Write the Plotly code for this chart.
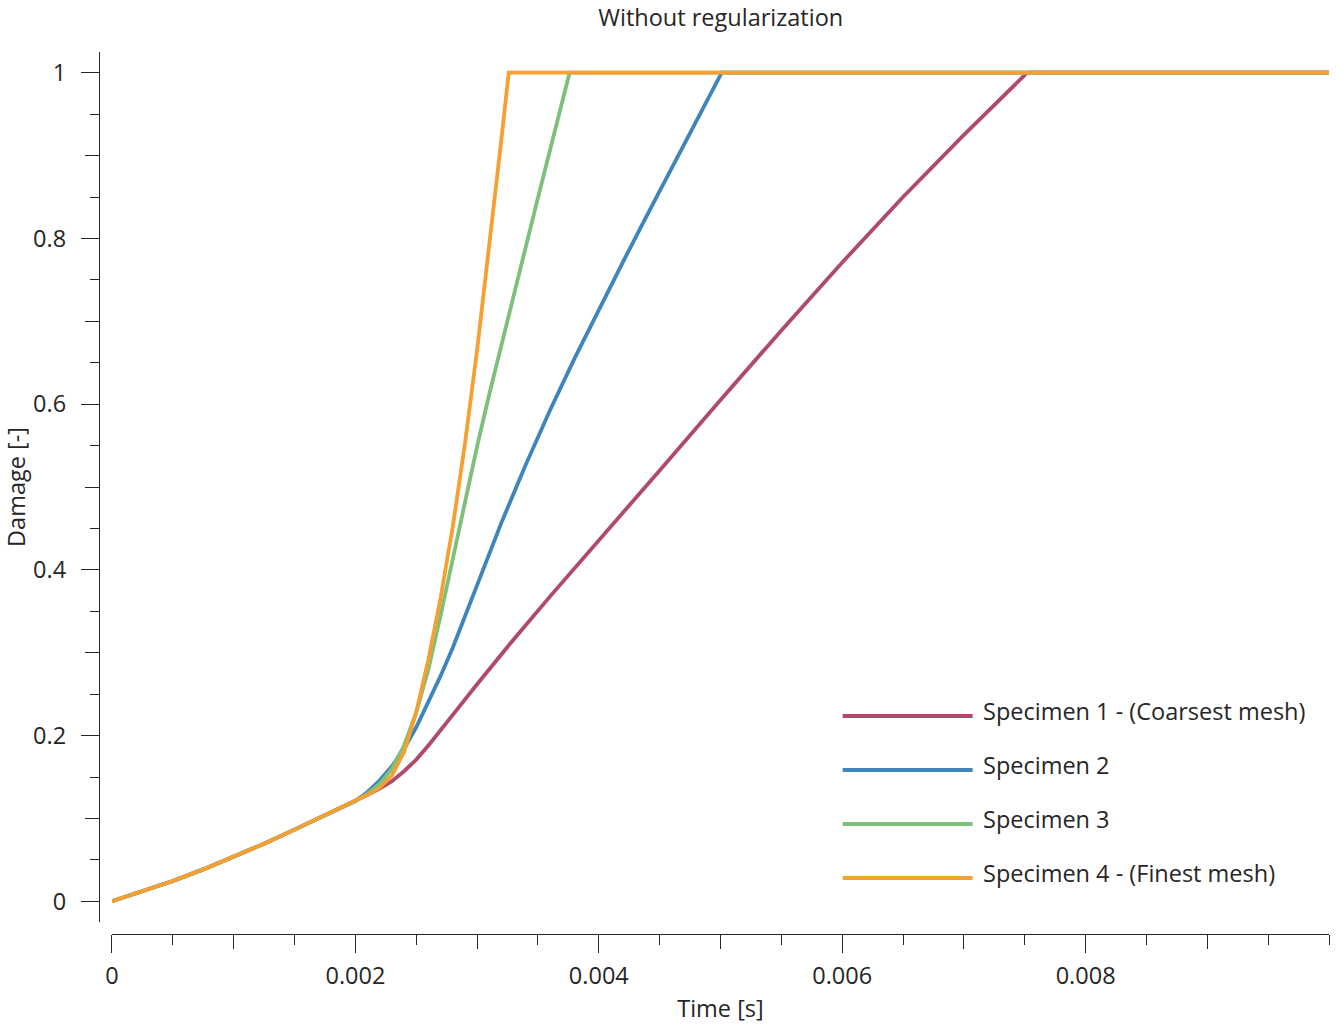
import plotly.graph_objects as go

# ---------------- data ----------------
t_common = [0.0, 0.00025, 0.0005, 0.00075, 0.001, 0.00125, 0.0015, 0.00175, 0.002]
d_common = [0.0, 0.0118, 0.0245, 0.0385, 0.0535, 0.0695, 0.0865, 0.1035, 0.121]

t_spec1 = [0.0021, 0.0022, 0.0023, 0.0024, 0.0025, 0.0026, 0.0027, 0.0028, 0.0030, 0.0033,
           0.0036, 0.0040, 0.0045, 0.0050, 0.0055, 0.0060, 0.0065, 0.0070, 0.0075, 0.00752, 0.01]
d_spec1 = [0.1285, 0.136, 0.145, 0.157, 0.171, 0.188, 0.206, 0.225, 0.262, 0.316,
           0.368, 0.435, 0.520, 0.605, 0.689, 0.771, 0.850, 0.925, 0.998, 1.0, 1.0]

t_spec2 = [0.0021, 0.0022, 0.0023, 0.0024, 0.0025, 0.0026, 0.0027, 0.0028, 0.0030, 0.0032,
           0.0034, 0.0036, 0.0038, 0.0040, 0.0042, 0.0044, 0.0046, 0.0048, 0.0050, 0.00501, 0.01]
d_spec2 = [0.132, 0.146, 0.163, 0.184, 0.210, 0.240, 0.272, 0.306, 0.383, 0.457,
           0.527, 0.593, 0.655, 0.714, 0.772, 0.829, 0.885, 0.941, 0.997, 1.0, 1.0]

t_spec3 = [0.0021, 0.0022, 0.0023, 0.0024, 0.0025, 0.0026, 0.0027, 0.0028, 0.0029, 0.0030,
           0.0031, 0.0032, 0.0033, 0.0034, 0.0035, 0.0036, 0.0037, 0.00376, 0.01]
d_spec3 = [0.130, 0.142, 0.160, 0.188, 0.228, 0.280, 0.345, 0.413, 0.482, 0.549,
           0.612, 0.672, 0.731, 0.790, 0.849, 0.907, 0.964, 1.0, 1.0]

t_spec4 = [0.0021, 0.0022, 0.0023, 0.0024, 0.0025, 0.0026, 0.0027, 0.0028, 0.0029,
           0.0030, 0.0031, 0.0032, 0.00326, 0.01]
d_spec4 = [0.1285, 0.137, 0.152, 0.180, 0.228, 0.292, 0.366, 0.452, 0.552,
           0.665, 0.788, 0.920, 1.0, 1.0]

series_names = ["Specimen 1 - (Coarsest mesh)", "Specimen 2", "Specimen 3",
                "Specimen 4 - (Finest mesh)"]
series_colors = ["#b04a6a", "#3d85bc", "#7dc07a", "#f5a030"]

x_major = [0, 0.002, 0.004, 0.006, 0.008]
x_major_text = ["0", "0.002", "0.004", "0.006", "0.008"]
x_mid = [0.001, 0.003, 0.005, 0.007, 0.009]
y_major = [0, 0.2, 0.4, 0.6, 0.8, 1]
y_major_text = ["0", "0.2", "0.4", "0.6", "0.8", "1"]
y_mid = [0.1, 0.3, 0.5, 0.7, 0.9]

# ---------------- figure ----------------
W, H = 1339, 1024
ML, MR, MT, MB = 99, 9.5, 52, 90
PW, PH = W - ML - MR, H - MT - MB
FONT = "Open Sans"
FS = 23.5
TXT = "#262626"
LW = 3.8


def px2paper(px, py):
    return (px - ML) / PW, (H - MB - py) / PH


fig = go.Figure()
all_t = [t_spec1, t_spec2, t_spec3, t_spec4]
all_d = [d_spec1, d_spec2, d_spec3, d_spec4]
for name, col, ts, ds in zip(series_names, series_colors, all_t, all_d):
    fig.add_trace(go.Scatter(x=t_common + ts, y=d_common + ds, mode="lines", name=name,
                             line=dict(color=col, width=LW),
                             showlegend=False))

# dummy trace to activate overlay axes (medium ticks)
fig.add_trace(go.Scatter(x=[], y=[], xaxis="x2", yaxis="y2", showlegend=False, hoverinfo="skip"))

x_dom0 = (112 - ML) / PW
y_dom0 = (934 - 922) / PH
xrange = [0, 0.01]
yrange = [-0.025, 1.025]

common_axis = dict(showgrid=False, zeroline=False, ticks="outside", tickcolor=TXT,
                   tickwidth=1.3, linecolor=TXT, linewidth=1.3, automargin=False)

fig.update_layout(
    width=W, height=H,
    margin=dict(l=ML, r=MR, t=MT, b=MB, pad=0, autoexpand=False),
    plot_bgcolor="white", paper_bgcolor="white",
    font=dict(family=FONT, size=FS, color=TXT),
    title=dict(text="Without regularization", x=(720.75) / W, xanchor="center",
               y=1 - 18 / H, yanchor="middle", font=dict(size=FS, color=TXT)),
    xaxis=dict(range=xrange, domain=[x_dom0, 1], anchor="free", position=0,
               tickvals=x_major, ticktext=x_major_text, ticklen=18,
               minor=dict(dtick=0.0005, tick0=0, ticklen=10, ticks="outside",
                          tickcolor=TXT, tickwidth=1.3, showgrid=False),
               title=dict(text="Time [s]", standoff=13, font=dict(size=FS)),
               showline=True, ticklabelstandoff=3, **common_axis),
    yaxis=dict(range=yrange, domain=[y_dom0, 1], anchor="free", position=0,
               tickvals=y_major, ticktext=y_major_text, ticklen=18,
               minor=dict(dtick=0.05, tick0=0, ticklen=9, ticks="outside",
                          tickcolor=TXT, tickwidth=1.3, showgrid=False),
               title=dict(text="Damage [-]", standoff=6, font=dict(size=FS)),
               showline=True, ticklabelstandoff=10, **common_axis),
    xaxis2=dict(range=xrange, domain=[x_dom0, 1], anchor="free", position=0,
                overlaying="x", tickvals=x_mid, ticklen=14, showticklabels=False,
                showline=False, showgrid=False, zeroline=False, ticks="outside",
                tickcolor=TXT, tickwidth=1.3, automargin=False),
    yaxis2=dict(range=yrange, domain=[y_dom0, 1], anchor="free", position=0,
                overlaying="y", tickvals=y_mid, ticklen=14, showticklabels=False,
                showline=False, showgrid=False, zeroline=False, ticks="outside",
                tickcolor=TXT, tickwidth=1.3, automargin=False),
)

# custom legend with long line samples
for i, (name, col) in enumerate(zip(series_names, series_colors)):
    ly = 716 + 54 * i
    x0, y0 = px2paper(843, ly)
    x1, _ = px2paper(973, ly)
    fig.add_shape(type="line", xref="paper", yref="paper", x0=x0, x1=x1, y0=y0, y1=y0,
                  line=dict(color=col, width=LW))
    tx, ty = px2paper(981, ly - 5)
    fig.add_annotation(xref="paper", yref="paper", x=tx, y=ty, text=name, showarrow=False,
                       xanchor="left", yanchor="middle", font=dict(size=FS, color=TXT))

fig.write_html("out.html")
